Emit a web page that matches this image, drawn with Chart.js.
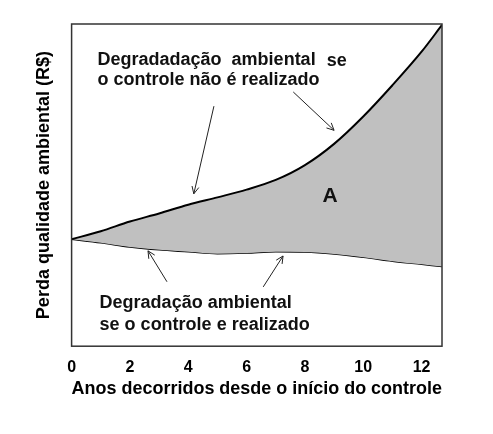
<!DOCTYPE html>
<html>
<head>
<meta charset="utf-8">
<script src="https://cdn.jsdelivr.net/npm/chart.js@4"></script>
<style>
  body { margin: 0; background: #fff; }
  canvas { display: block; }
</style>
</head>
<body>
<canvas id="chart" width="493" height="434"></canvas>
<script>
// anos e perda (escala relativa 0-100, o eixo y não tem valores)
const anos = [0, 1, 2, 3, 4, 5, 6, 7, 8, 9, 10, 11, 12, 12.7];
const semControle = [33.2, 35.7, 38.7, 41.2, 43.9, 46.2, 48.6, 51.6, 56.2, 62.8, 71.3, 81.0, 91.4, 99.7];
const comControle = [33.2, 32.1, 30.8, 29.9, 29.3, 28.7, 28.9, 29.3, 29.2, 28.6, 27.6, 26.4, 25.4, 24.7];
const xTicks = [0, 2, 4, 6, 8, 10, 12];

const FONT = '"Liberation Sans", Arial, sans-serif';

// notes and arrows, in data units
const notes = [
  { text: 'Degradadação  ambiental', x: 0.89, y: 87.4, size: 18 },
  { text: 'se', x: 8.75, y: 86.9, size: 18 },
  { text: 'o controle não é realizado', x: 0.89, y: 81.2, size: 18 },
  { text: 'Degradação ambiental', x: 0.96, y: 11.8, size: 18 },
  { text: 'se o controle e realizado', x: 0.96, y: 5.0, size: 18 },
  { text: 'A', x: 8.86, y: 46.7, size: 21, center: true }
];
const arrows = [
  { from: [4.88, 74.5], to: [4.19, 47.3] },
  { from: [7.60, 78.9], to: [9.00, 67.0] },
  { from: [3.27, 20.0], to: [2.62, 29.6] },
  { from: [6.57, 18.4], to: [7.25, 28.0] }
];

const notesPlugin = {
  id: 'notes',
  afterDatasetsDraw(chart) {
    const { ctx, chartArea, scales } = chart;
    const sx = scales.x, sy = scales.y;
    ctx.save();

    // box round the plot
    ctx.strokeStyle = '#333';
    ctx.lineWidth = 1.5;
    ctx.strokeRect(chartArea.left, chartArea.top, chartArea.right - chartArea.left, chartArea.bottom - chartArea.top);

    // arrows
    ctx.strokeStyle = '#222';
    ctx.lineWidth = 1;
    arrows.forEach(a => {
      const x1 = sx.getPixelForValue(a.from[0]), y1 = sy.getPixelForValue(a.from[1]);
      const x2 = sx.getPixelForValue(a.to[0]), y2 = sy.getPixelForValue(a.to[1]);
      const ang = Math.atan2(y2 - y1, x2 - x1);
      const len = 8, spread = 0.45;
      ctx.beginPath();
      ctx.moveTo(x1, y1);
      ctx.lineTo(x2, y2);
      ctx.moveTo(x2 - len * Math.cos(ang - spread), y2 - len * Math.sin(ang - spread));
      ctx.lineTo(x2, y2);
      ctx.lineTo(x2 - len * Math.cos(ang + spread), y2 - len * Math.sin(ang + spread));
      ctx.stroke();
    });

    // texts
    ctx.fillStyle = '#111';
    notes.forEach(n => {
      ctx.font = `bold ${n.size}px ${FONT}`;
      ctx.textAlign = n.center ? 'center' : 'left';
      ctx.textBaseline = n.center ? 'middle' : 'alphabetic';
      ctx.fillText(n.text, sx.getPixelForValue(n.x), sy.getPixelForValue(n.y));
    });
    ctx.restore();
  }
};

new Chart(document.getElementById('chart'), {
  type: 'line',
  data: {
    datasets: [
      {
        label: 'Degradação sem controle',
        data: anos.map((x, i) => ({ x, y: semControle[i] })),
        borderColor: '#000',
        borderWidth: 2,
        backgroundColor: '#c0c0c0',
        fill: '+1',
        cubicInterpolationMode: 'monotone',
        pointRadius: 0
      },
      {
        label: 'Degradação com controle',
        data: anos.map((x, i) => ({ x, y: comControle[i] })),
        borderColor: '#000',
        borderWidth: 1.5,
        fill: false,
        cubicInterpolationMode: 'monotone',
        pointRadius: 0
      }
    ]
  },
  options: {
    responsive: false,
    animation: false,
    layout: { padding: { top: 24, right: 51, left: 30, bottom: 34 } },
    plugins: {
      legend: { display: false },
      tooltip: { enabled: false }
    },
    scales: {
      x: {
        type: 'linear',
        min: 0,
        max: 12.7,
        afterBuildTicks: scale => { scale.ticks = xTicks.map(v => ({ value: v })); },
        grid: { display: false, drawTicks: false },
        border: { display: false },
        ticks: {
          color: '#000',
          padding: 12,
          maxRotation: 0,
          autoSkip: false,
          font: { family: FONT, size: 16, weight: 'bold' }
        },
        title: {
          display: true,
          text: 'Anos decorridos desde o início do controle',
          color: '#000',
          padding: { top: -11, bottom: 0 },
          font: { family: FONT, size: 18, weight: 'bold' }
        }
      },
      y: {
        min: 0,
        max: 100,
        grid: { display: false, drawTicks: false },
        border: { display: false },
        ticks: { display: false },
        title: {
          display: true,
          text: 'Perda qualidade ambiental (R$)',
          color: '#000',
          padding: { top: 3, bottom: 17 },
          font: { family: FONT, size: 18, weight: 'bold' }
        }
      }
    }
  },
  plugins: [notesPlugin]
});
</script>
</body>
</html>
